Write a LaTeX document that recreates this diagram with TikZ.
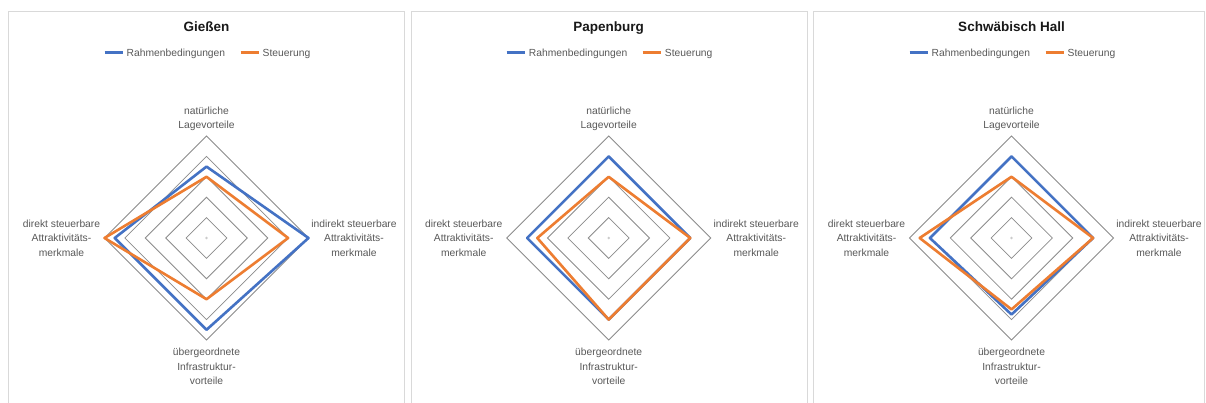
\documentclass[tikz,border=0pt]{standalone}
\usepackage{fontspec}
\setmainfont{Liberation Sans}

\definecolor{rbblue}{HTML}{4472C4}
\definecolor{storange}{HTML}{ED7D31}
\definecolor{gridgray}{HTML}{8C8C8C}
\definecolor{framegray}{HTML}{D9D9D9}
\definecolor{labelgray}{HTML}{595959}

\tikzset{
  panelframe/.style={draw=framegray, line width=0.8pt},
  ring/.style={draw=gridgray, line width=0.8pt},
  series/.style={line width=2.6pt, line join=round},
  axislabel/.style={font=\fontsize{10.3}{14.4}\selectfont, text=labelgray, align=center, inner sep=0pt},
  charttitle/.style={font=\bfseries\fontsize{13.5}{16}\selectfont, text=black!90, inner sep=0pt, anchor=base},
  legendtext/.style={font=\fontsize{10.3}{12}\selectfont, text=labelgray, inner sep=0pt, anchor=base west},
  legendline/.style={line width=2.6pt},
}

\begin{document}
\begin{tikzpicture}[x=1pt, y=-1pt]
  \useasboundingbox (0,0) rectangle (1206,403);
  \fill[white] (0,0) rectangle (1206,403);

  % one radar chart per town: id / frame left / frame right / centre x / title /
  % Rahmenbedingungen (top,right,bottom,left) / Steuerung (top,right,bottom,left)
  \foreach \id/\fl/\fr/\cx/\ttl/\bT/\bR/\bB/\bL/\oT/\oR/\oB/\oL in {
      g/8/404/206.5/{Gießen}/3.5/5/4.5/4.5/3/4/3/5,
      p/411/807/608.7/{Papenburg}/4/4/4/4/3/4/4/3.5,
      s/813/1204/1011.5/{Schwäbisch Hall}/4/4/3.75/4/3/4/3.5/4.5} {

    % chart frame (open at the bottom)
    \draw[panelframe] (\fl,403) -- (\fl,11) -- (\fr,11) -- (\fr,403);

    % title and legend
    \node[charttitle] (title-\id) at (\cx,32) {\ttl};
    \coordinate (lb1-\id) at ({\cx-102},52.7);
    \coordinate (lb2-\id) at ({\cx-84},52.7);
    \draw[legendline, rbblue] (lb1-\id) -- (lb2-\id);
    \node[legendtext] (legrb-\id) at ({\cx-80},56.4) {Rahmenbedingungen};
    \coordinate (lo1-\id) at ({\cx+34},52.7);
    \coordinate (lo2-\id) at ({\cx+52},52.7);
    \draw[legendline, storange] (lo1-\id) -- (lo2-\id);
    \node[legendtext] (legst-\id) at ({\cx+56},56.4) {Steuerung};

    % grid rings
    \foreach \k in {1,...,5} {
      \draw[ring] (\cx,{238-20.4*\k}) -- ({\cx+20.4*\k},238)
        -- (\cx,{238+20.4*\k}) -- ({\cx-20.4*\k},238) -- cycle;
    }
    \fill[gridgray!45] (\cx,238) circle (1.4);

    % data series
    \draw[series, rbblue] (\cx,{238-20.4*\bT}) -- ({\cx+20.4*\bR},238)
      -- (\cx,{238+20.4*\bB}) -- ({\cx-20.4*\bL},238) -- cycle;
    \draw[series, storange] (\cx,{238-20.4*\oT}) -- ({\cx+20.4*\oR},238)
      -- (\cx,{238+20.4*\oB}) -- ({\cx-20.4*\oL},238) -- cycle;

    % axis labels
    \node[axislabel] (ax1-\id) at (\cx,119) {natürliche\\Lagevorteile};
    \node[axislabel] (ax2-\id) at ({\cx+147.5},238) {indirekt steuerbare\\Attraktivitäts-\\merkmale};
    \node[axislabel] (ax3-\id) at (\cx,366.5) {übergeordnete\\Infrastruktur-\\vorteile};
    \node[axislabel] (ax4-\id) at ({\cx-145},238) {direkt steuerbare\\Attraktivitäts-\\merkmale};
  }
\end{tikzpicture}
\end{document}
